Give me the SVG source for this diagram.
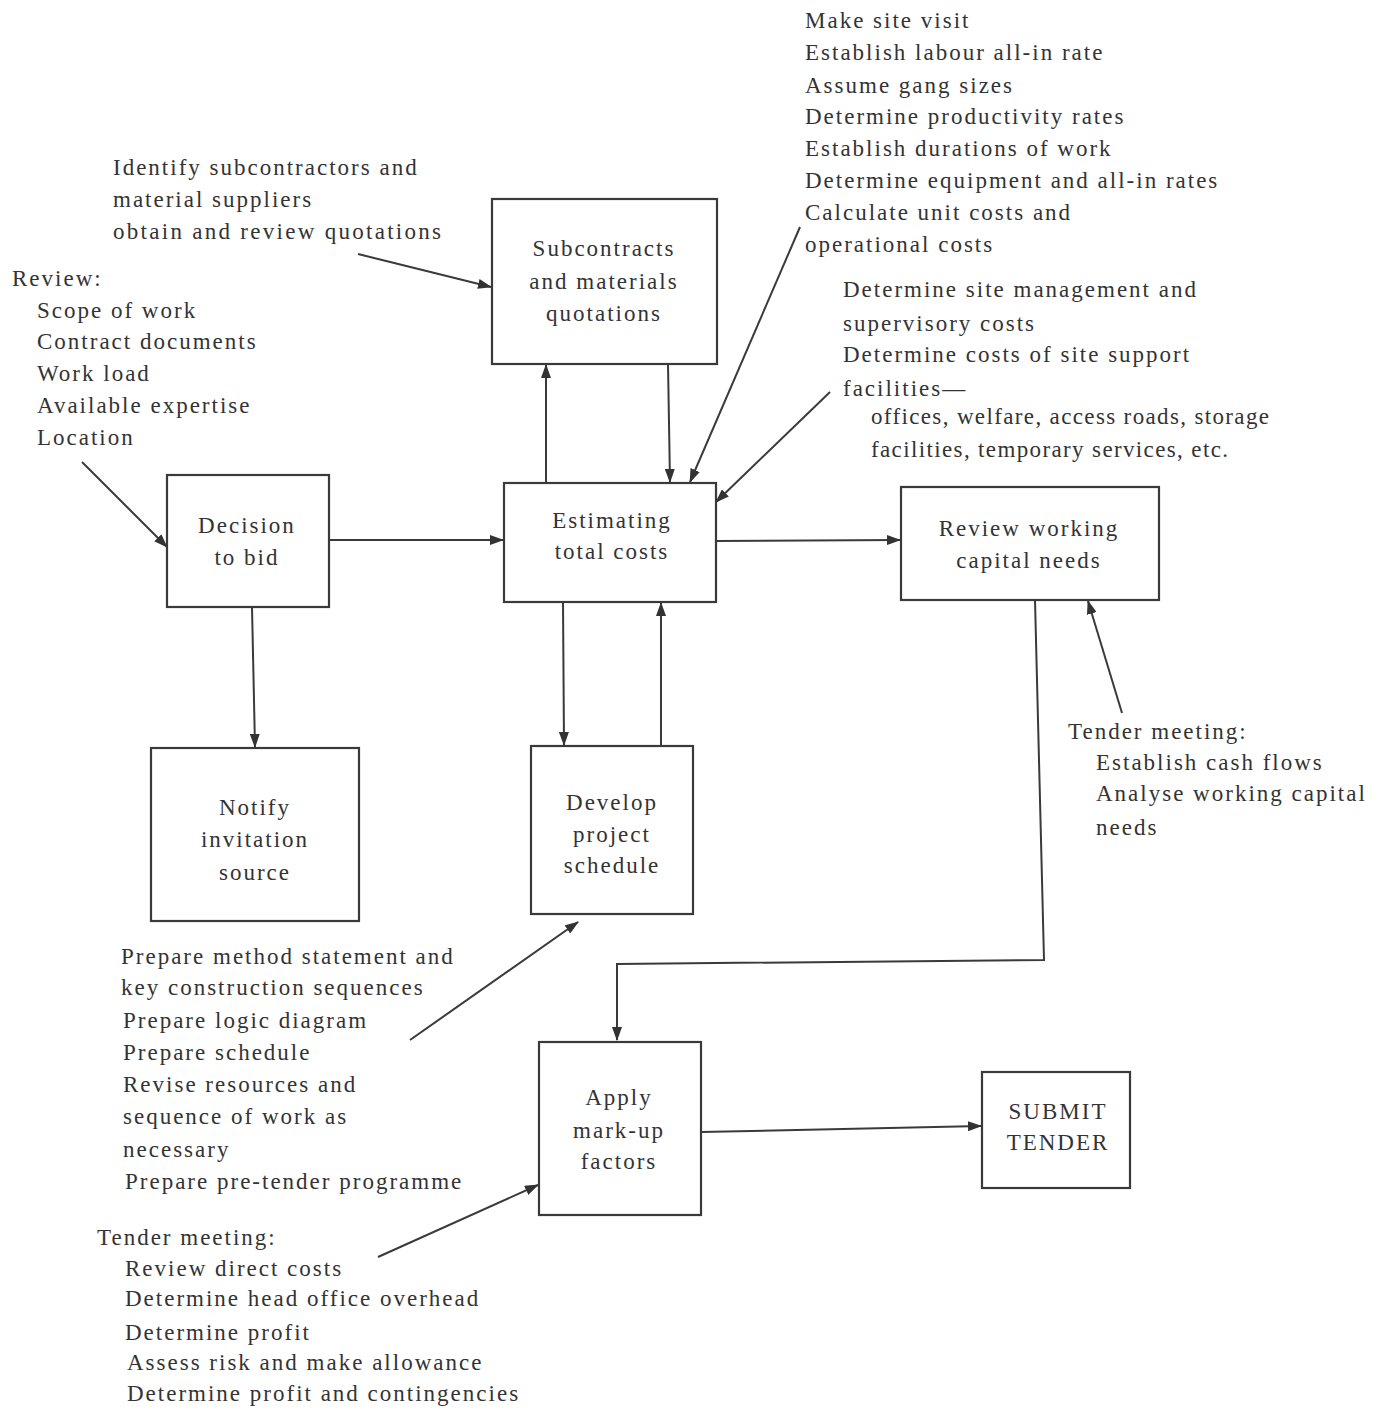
<svg xmlns="http://www.w3.org/2000/svg" width="1379" height="1412" viewBox="0 0 1379 1412">
<style>
text{font-family:"Liberation Serif","Times New Roman",serif;font-size:23px;fill:#333;letter-spacing:2px}
.c{text-anchor:middle}
.box{fill:#fff;stroke:#3a3a3a;stroke-width:2.2}
.ln{fill:none;stroke:#3a3a3a;stroke-width:2}
</style>
<defs>
<marker id="ah" viewBox="0 0 14 10" refX="13" refY="5" markerWidth="14" markerHeight="10" markerUnits="userSpaceOnUse" orient="auto">
<path d="M0,0 L14,5 L0,10 Z" fill="#333"/>
</marker>
</defs>
<rect width="1379" height="1412" fill="#fff"/>

<g id="connectors">
<line class="ln" x1="329" y1="540" x2="503" y2="540" marker-end="url(#ah)"/>
<line class="ln" x1="716" y1="541" x2="900" y2="540" marker-end="url(#ah)"/>
<line class="ln" x1="252" y1="607" x2="255" y2="747" marker-end="url(#ah)"/>
<line class="ln" x1="546" y1="483" x2="546" y2="365" marker-end="url(#ah)"/>
<line class="ln" x1="668" y1="364" x2="670" y2="482" marker-end="url(#ah)"/>
<line class="ln" x1="563" y1="602" x2="564" y2="745" marker-end="url(#ah)"/>
<line class="ln" x1="661" y1="746" x2="661" y2="603" marker-end="url(#ah)"/>
<polyline class="ln" points="1035,600 1044,960 617,964 617,1040" marker-end="url(#ah)"/>
<line class="ln" x1="701" y1="1132" x2="981" y2="1126" marker-end="url(#ah)"/>
<line class="ln" x1="82" y1="462" x2="167" y2="547" marker-end="url(#ah)"/>
<line class="ln" x1="358" y1="254" x2="491" y2="287" marker-end="url(#ah)"/>
<line class="ln" x1="800" y1="227" x2="690" y2="482" marker-end="url(#ah)"/>
<line class="ln" x1="830" y1="392" x2="716" y2="502" marker-end="url(#ah)"/>
<line class="ln" x1="1122" y1="713" x2="1088" y2="601" marker-end="url(#ah)"/>
<line class="ln" x1="410" y1="1040" x2="578" y2="922" marker-end="url(#ah)"/>
<line class="ln" x1="378" y1="1257" x2="538" y2="1185" marker-end="url(#ah)"/>
</g>

<g id="subcontracts">
<rect class="box" x="492" y="199" width="225" height="165"/>
<text class="c" x="604" y="256">Subcontracts</text>
<text class="c" x="604" y="289">and materials</text>
<text class="c" x="604" y="321">quotations</text>
</g>
<g id="estimating">
<rect class="box" x="504" y="483" width="212" height="119"/>
<text class="c" x="612" y="528">Estimating</text>
<text class="c" x="612" y="559">total costs</text>
</g>
<g id="decision">
<rect class="box" x="167" y="475" width="162" height="132"/>
<text class="c" x="247" y="533">Decision</text>
<text class="c" x="247" y="565">to bid</text>
</g>
<g id="review-capital">
<rect class="box" x="901" y="487" width="258" height="113"/>
<text class="c" x="1029" y="536">Review working</text>
<text class="c" x="1029" y="568">capital needs</text>
</g>
<g id="notify">
<rect class="box" x="151" y="748" width="208" height="173"/>
<text class="c" x="255" y="815">Notify</text>
<text class="c" x="255" y="847">invitation</text>
<text class="c" x="255" y="880">source</text>
</g>
<g id="develop">
<rect class="box" x="531" y="746" width="162" height="168"/>
<text class="c" x="612" y="810">Develop</text>
<text class="c" x="612" y="842">project</text>
<text class="c" x="612" y="873">schedule</text>
</g>
<g id="apply">
<rect class="box" x="539" y="1042" width="162" height="173"/>
<text class="c" x="619" y="1105">Apply</text>
<text class="c" x="619" y="1138">mark-up</text>
<text class="c" x="619" y="1169">factors</text>
</g>
<g id="submit">
<rect class="box" x="982" y="1072" width="148" height="116"/>
<text class="c" x="1058" y="1119">SUBMIT</text>
<text class="c" x="1058" y="1150">TENDER</text>
</g>

<g id="note-identify">
<text x="113" y="175">Identify subcontractors and</text>
<text x="113" y="207">material suppliers</text>
<text x="113" y="239" textLength="330">obtain and review quotations</text>
</g>
<g id="note-review">
<text x="12" y="286">Review:</text>
<text x="37" y="318">Scope of work</text>
<text x="37" y="349">Contract documents</text>
<text x="37" y="381">Work load</text>
<text x="37" y="413">Available expertise</text>
<text x="37" y="445">Location</text>
</g>
<g id="note-site">
<text x="805" y="28">Make site visit</text>
<text x="805" y="60">Establish labour all-in rate</text>
<text x="805" y="93">Assume gang sizes</text>
<text x="805" y="124">Determine productivity rates</text>
<text x="805" y="156">Establish durations of work</text>
<text x="805" y="188">Determine equipment and all-in rates</text>
<text x="805" y="220">Calculate unit costs and</text>
<text x="805" y="252">operational costs</text>
</g>
<g id="note-management">
<text x="843" y="297">Determine site management and</text>
<text x="843" y="331">supervisory costs</text>
<text x="843" y="362">Determine costs of site support</text>
<text x="843" y="396">facilities—</text>
<text x="871" y="424" textLength="400">offices, welfare, access roads, storage</text>
<text x="871" y="457" textLength="359">facilities, temporary services, etc.</text>
</g>
<g id="note-cash">
<text x="1068" y="739">Tender meeting:</text>
<text x="1096" y="770">Establish cash flows</text>
<text x="1096" y="801">Analyse working capital</text>
<text x="1096" y="835">needs</text>
</g>
<g id="note-schedule">
<text x="121" y="964">Prepare method statement and</text>
<text x="121" y="995">key construction sequences</text>
<text x="123" y="1028">Prepare logic diagram</text>
<text x="123" y="1060">Prepare schedule</text>
<text x="123" y="1092">Revise resources and</text>
<text x="123" y="1124">sequence of work as</text>
<text x="123" y="1157">necessary</text>
<text x="125" y="1189">Prepare pre-tender programme</text>
</g>
<g id="note-markup">
<text x="97" y="1245">Tender meeting:</text>
<text x="125" y="1276">Review direct costs</text>
<text x="125" y="1306">Determine head office overhead</text>
<text x="125" y="1340">Determine profit</text>
<text x="127" y="1370">Assess risk and make allowance</text>
<text x="127" y="1401">Determine profit and contingencies</text>
</g>
</svg>
